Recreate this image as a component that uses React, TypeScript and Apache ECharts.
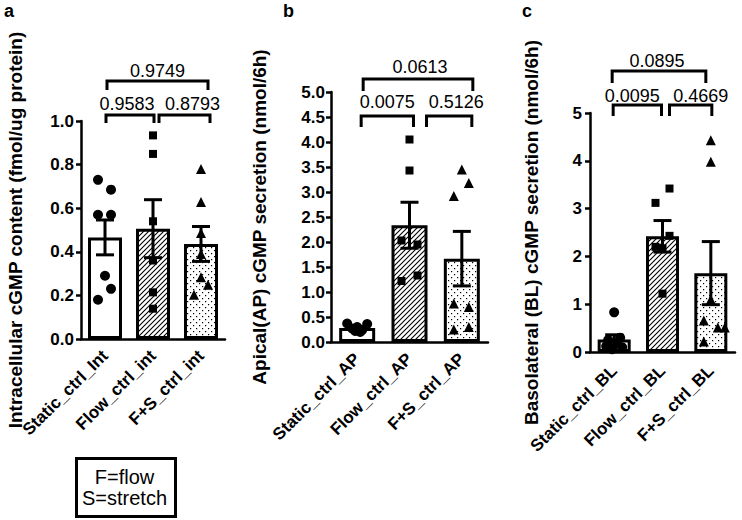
import React, { useEffect, useRef } from 'react';
import * as echarts from 'echarts';

// ---------- data ----------
const categoriesA = ['Static_ctrl_Int', 'Flow_ctrl_int', 'F+S_ctrl_int'];
const categoriesB = ['Static_ctrl_AP', 'Flow_ctrl_AP', 'F+S_ctrl_AP'];
const categoriesC = ['Static_ctrl_BL', 'Flow_ctrl_BL', 'F+S_ctrl_BL'];

const meansA = [0.466, 0.506, 0.436];
const semA = [0.08, 0.133, 0.08];
const meansB = [0.28, 2.335, 1.667];
const semB = [0.03, 0.46, 0.545];
const meansC = [0.26, 2.42, 1.65];
const semC = [0.1, 0.33, 0.66];

const staticA = [0.73, 0.685, 0.57, 0.57, 0.29, 0.23, 0.18];
const flowA = [0.934, 0.849, 0.54, 0.36, 0.214, 0.139];
const fsA = [0.78, 0.628, 0.486, 0.39, 0.283, 0.249, 0.203];
const staticB = [0.37, 0.36, 0.3, 0.27, 0.24, 0.22, 0.2];
const flowB = [4.05, 3.43, 2.03, 1.95, 1.22, 1.33];
const fsB = [3.45, 3.18, 2.92, 0.77, 0.7, 0.25, 0.3];
const staticC = [0.83, 0.3, 0.25, 0.18, 0.12, 0.1, 0.06];
const flowC = [3.42, 3.12, 2.43, 2.2, 2.17, 1.22];
const fsC = [4.43, 3.98, 1.1, 0.66, 0.51, 0.51, 0.22];

const comparisons = [[0, 1], [1, 2], [0, 2]];
const pValuesA = ['0.9583', '0.8793', '0.9749'];
const pValuesB = ['0.0075', '0.5126', '0.0613'];
const pValuesC = ['0.0095', '0.4669', '0.0895'];

const titleA = 'Intracellular cGMP content (fmol/ug protein)';
const titleB = 'Apical(AP) cGMP secretion (nmol/6h)';
const titleC = 'Basolateral (BL) cGMP secretion (nmol/6h)';
const legendLines = ['F=flow', 'S=stretch'];

// ---------- layout (pixel offsets / styles only) ----------
const jitterA = [[-7, 6, -7, 6, 0, 6, -7], [0, 0, 0, 0, 0, 0], [0, 0, 0, 0, 0, 7, -7]];
const jitterB = [[-10, 10, 0, -5, 5, -2, 3], [0, 0, -8, 8, -8, 8], [0, 7, -8, -8, 7, -8, 7]];
const jitterC = [[0, 6, -6, 3, -8, 8, -2], [7, -7, 7, -7, 0, 0], [0, 0, 0, -7, 7, 14, -7]];

const FONT = '"Liberation Sans", Arial, Helvetica, sans-serif';

type BracketLayout = { dx: number[]; dy: number; leg: number; ldx: number; ldy: number };

const panels = [
  {
    letter: 'a', letterX: 4, cats: categoriesA, means: meansA, sem: semA,
    points: [staticA, flowA, fsA], jitter: jitterA, pvals: pValuesA, title: titleA,
    grid: { left: 81, top: 121, width: 144, height: 218 }, yMax: 1, interval: 0.2, decimals: 1,
    barWidth: 34, nameGap: 56, labelMargin: 7, xMargin: 14,
    brackets: [
      { dx: [1, 1], dy: -6, leg: 8, ldx: -3, ldy: -17 },
      { dx: [6, 9], dy: -6, leg: 8, ldx: 8, ldy: -17 },
      { dx: [2, 7], dy: -40, leg: 9, ldx: 0, ldy: -50 },
    ] as BracketLayout[],
  },
  {
    letter: 'b', letterX: 283, cats: categoriesB, means: meansB, sem: semB,
    points: [staticB, flowB, fsB], jitter: jitterB, pvals: pValuesB, title: titleB,
    grid: { left: 331, top: 92, width: 157, height: 250 }, yMax: 5, interval: 0.5, decimals: 1,
    barWidth: 36, nameGap: 62, labelMargin: 6, xMargin: 14,
    brackets: [
      { dx: [4, 4], dy: 24, leg: 11, ldx: 0, ldy: 10 },
      { dx: [17, 10], dy: 24, leg: 11, ldx: 7, ldy: 10 },
      { dx: [6, 11], dy: -13, leg: 12, ldx: 2, ldy: -25 },
    ] as BracketLayout[],
  },
  {
    letter: 'c', letterX: 522, cats: categoriesC, means: meansC, sem: semC,
    points: [staticC, flowC, fsC], jitter: jitterC, pvals: pValuesC, title: titleC,
    grid: { left: 590, top: 113, width: 145, height: 239 }, yMax: 5, interval: 1, decimals: 0,
    barWidth: 33, nameGap: 49, labelMargin: 8, xMargin: 16,
    brackets: [
      { dx: [-1, -1], dy: -8, leg: 11, ldx: -5, ldy: -17 },
      { dx: [7, 1], dy: -8, leg: 11, ldx: 10, ldy: -17 },
      { dx: [-2, -5], dy: -42, leg: 12, ldx: -2, ldy: -52 },
    ] as BracketLayout[],
  },
];

const symbols = ['circle', 'rect', 'triangle'];
const symbolSizes = [10, 8, 10];

function makePattern(kind: 'hatch' | 'dots'): HTMLCanvasElement {
  const s = kind === 'hatch' ? 5 : 6;
  const c = document.createElement('canvas');
  c.width = s;
  c.height = s;
  const ctx = c.getContext('2d')!;
  ctx.fillStyle = '#fff';
  ctx.fillRect(0, 0, s, s);
  if (kind === 'hatch') {
    ctx.strokeStyle = '#000';
    ctx.lineWidth = 1.1;
    ctx.beginPath();
    ctx.moveTo(-1, s + 1);
    ctx.lineTo(s + 1, -1);
    ctx.moveTo(-1, 1);
    ctx.lineTo(1, -1);
    ctx.moveTo(s - 1, s + 1);
    ctx.lineTo(s + 1, s - 1);
    ctx.stroke();
  } else {
    ctx.fillStyle = '#000';
    ctx.fillRect(1, 1, 1.2, 1.2);
    ctx.fillRect(4, 4, 1.2, 1.2);
  }
  return c;
}

export default function App() {
  const ref = useRef<HTMLDivElement>(null);

  useEffect(() => {
    if (!ref.current) return;
    const chart = echarts.init(ref.current, undefined, { renderer: 'svg' });
    const hatch = makePattern('hatch');
    const dots = makePattern('dots');
    const fills: any[] = [
      '#fff',
      { image: hatch, repeat: 'repeat', imageWidth: hatch.width, imageHeight: hatch.height },
      { image: dots, repeat: 'repeat', imageWidth: dots.width, imageHeight: dots.height },
    ];

    const grids: any[] = [];
    const xAxes: any[] = [];
    const yAxes: any[] = [];
    const series: any[] = [];
    const lineStyle = { color: '#000', width: 2.5 };

    panels.forEach((p, i) => {
      grids.push({ ...p.grid, containLabel: false });
      xAxes.push({
        type: 'category', gridIndex: i, data: p.cats,
        axisLine: { lineStyle },
        axisTick: { alignWithLabel: true, length: 5, lineStyle },
        axisLabel: {
          rotate: 45, interval: 0, fontSize: 17, fontWeight: 'bold', color: '#000',
          margin: p.xMargin, fontFamily: FONT,
        },
      });
      yAxes.push({
        type: 'value', gridIndex: i, min: 0, max: p.yMax, interval: p.interval,
        axisLine: { show: true, lineStyle },
        axisTick: { show: true, length: 5, lineStyle },
        splitLine: { show: false },
        axisLabel: {
          formatter: (v: number) => v.toFixed(p.decimals), fontSize: 17, fontWeight: 'bold',
          color: '#000', margin: p.labelMargin, fontFamily: FONT,
        },
        name: p.title, nameLocation: 'middle', nameGap: p.nameGap,
        nameTextStyle: { fontSize: 19, fontWeight: 'bold', color: '#000', fontFamily: FONT },
      });

      series.push({
        type: 'bar', xAxisIndex: i, yAxisIndex: i, barWidth: p.barWidth, z: 2,
        data: p.means.map((m, j) => ({ value: m, itemStyle: { color: fills[j] } })),
        itemStyle: { borderColor: '#000', borderWidth: 3 },
      });

      series.push({
        type: 'custom', xAxisIndex: i, yAxisIndex: i, z: 3, clip: false,
        data: p.means.map((m, j) => [j, m, p.sem[j]]),
        renderItem: (_params: any, api: any) => {
          const j = api.value(0);
          const m = api.value(1);
          const e = api.value(2);
          const top = api.coord([j, m + e]);
          const bot = api.coord([j, m - e]);
          const x = top[0];
          const w = 9;
          const st = { stroke: '#000', lineWidth: 3 };
          return {
            type: 'group',
            children: [
              { type: 'line', shape: { x1: x, y1: top[1], x2: x, y2: bot[1] }, style: st },
              { type: 'line', shape: { x1: x - w, y1: top[1], x2: x + w, y2: top[1] }, style: st },
              { type: 'line', shape: { x1: x - w, y1: bot[1], x2: x + w, y2: bot[1] }, style: st },
            ],
          };
        },
      });

      p.points.forEach((vals, j) => {
        series.push({
          type: 'scatter', xAxisIndex: i, yAxisIndex: i, z: 4,
          symbol: symbols[j], symbolSize: symbolSizes[j],
          itemStyle: { color: '#000', opacity: 1 },
          data: vals.map((v, k) => ({ value: [j, v], symbolOffset: [p.jitter[j][k], 0] })),
        });
      });

      series.push({
        type: 'custom', xAxisIndex: i, yAxisIndex: i, z: 5, clip: false,
        data: comparisons.map(([f, t]) => [f, t]),
        renderItem: (params: any, api: any) => {
          const k = params.dataIndex;
          const b = p.brackets[k];
          const f = api.value(0);
          const t = api.value(1);
          const gridTop = api.coord([0, p.yMax])[1];
          const x1 = api.coord([f, 0])[0] + b.dx[0];
          const x2 = api.coord([t, 0])[0] + b.dx[1];
          const y = gridTop + b.dy;
          return {
            type: 'group',
            children: [
              {
                type: 'polyline',
                shape: { points: [[x1, y + b.leg], [x1, y], [x2, y], [x2, y + b.leg]] },
                style: { stroke: '#000', lineWidth: 3, fill: 'none' },
              },
              {
                type: 'text', x: (x1 + x2) / 2 + b.ldx, y: gridTop + b.ldy,
                style: {
                  text: p.pvals[k], fill: '#000', fontSize: 18, fontFamily: FONT,
                  align: 'center', verticalAlign: 'middle',
                },
              },
            ],
          };
        },
      });
    });

    const graphic: any[] = panels.map((p) => ({
      type: 'text', left: p.letterX, top: 2,
      style: { text: p.letter, fontSize: 18, fontWeight: 'bold', fill: '#000', fontFamily: FONT },
    }));
    graphic.push({
      type: 'rect', left: 75, top: 457,
      shape: { width: 99, height: 58 },
      style: { fill: '#fff', stroke: '#000', lineWidth: 3 },
    });
    legendLines.forEach((line, k) => {
      graphic.push({
        type: 'text', x: 124.5, y: 476.5 + k * 21.5,
        style: {
          text: line, fontSize: 20, fill: '#000', fontFamily: FONT,
          align: 'center', verticalAlign: 'middle',
        },
      });
    });

    chart.setOption({
      animation: false,
      backgroundColor: '#fff',
      textStyle: { fontFamily: FONT },
      grid: grids,
      xAxis: xAxes,
      yAxis: yAxes,
      series,
      graphic,
    });

    return () => chart.dispose();
  }, []);

  return (
    <div
      ref={ref}
      style={{ position: 'absolute', left: 0, top: 0, width: 742, height: 520, background: '#fff' }}
    />
  );
}
